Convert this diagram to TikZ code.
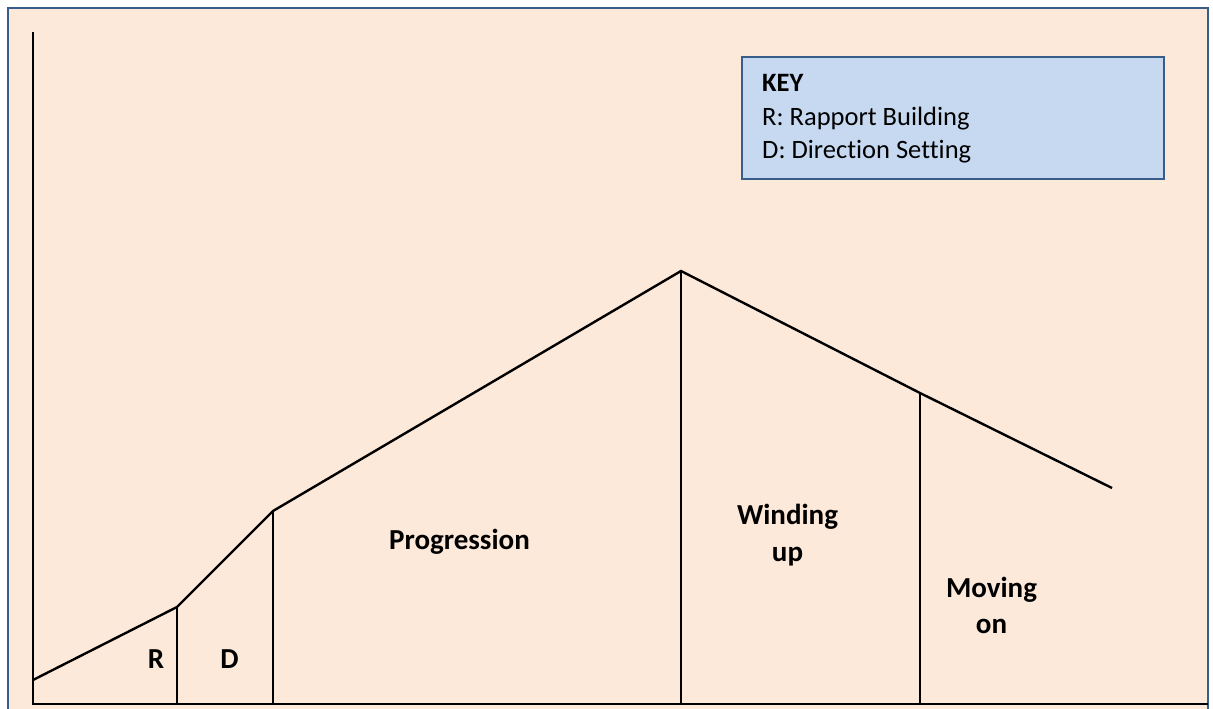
\documentclass[tikz,border=0pt]{standalone}
\usepackage{fontspec}
\setmainfont[Ligatures={NoCommon}]{Carlito}
\definecolor{peach}{HTML}{FDE9D9}
\definecolor{frameblue}{HTML}{385D8A}
\definecolor{keyfill}{HTML}{C6D9F1}
\begin{document}
\begin{tikzpicture}[x=1pt,y=-1pt,
  curve/.style={line width=2.4pt,line join=miter},
  axisline/.style={line width=2.8pt},
  divider/.style={line width=2.4pt},
  phase/.style={font=\fontsize{29}{37}\selectfont\bfseries,align=center,inner sep=0pt},
  keytext/.style={font=\fontsize{26.5}{33}\selectfont,anchor=base west,inner sep=0pt}]
  \useasboundingbox (0,0) rectangle (1213,709);
  % page background and frame
  \fill[white] (0,0) rectangle (1213,709);
  \fill[peach] (8,8) rectangle (1208,712);
  \draw[frameblue,line width=2.6pt] (8,714) -- (8,8) -- (1208,8) -- (1208,714);

  % axes
  \coordinate (top) at (33,32);
  \coordinate (origin) at (33,704);
  \coordinate (xend) at (1208,704);
  \draw[axisline] (top) -- (origin) -- (xend);

  % session curve
  \coordinate (c0) at (33,680);
  \coordinate (c1) at (177,607);
  \coordinate (c2) at (273,511);
  \coordinate (c3) at (681,271);
  \coordinate (c4) at (920,393);
  \coordinate (c5) at (1112,488);
  \draw[curve] (c0) -- (c1) -- (c2) -- (c3) -- (c4) -- (c5);

  % phase dividers
  \coordinate (b1) at (177,704);
  \coordinate (b2) at (273,704);
  \coordinate (b3) at (681,704);
  \coordinate (b4) at (920,704);
  \draw[divider] (c1) -- (b1);
  \draw[divider] (c2) -- (b2);
  \draw[divider] (c3) -- (b3);
  \draw[divider] (c4) -- (b4);

  % phase labels
  \node[phase,anchor=base] (lr) at (156,668) {R};
  \node[phase,anchor=base] (ld) at (229.5,668) {D};
  \node[phase,anchor=base] (lp) at (459.5,549) {Progression};
  \node[phase,anchor=base] (lw) at (787.5,524) {Winding};
  \node[phase,anchor=base] (lu) at (787.5,561) {up};
  \node[phase,anchor=base] (lm) at (991.5,597) {Moving};
  \node[phase,anchor=base] (lo) at (991.5,633) {on};

  % key
  \node[draw=frameblue,fill=keyfill,line width=1.8pt,minimum width=422pt,minimum height=122pt,inner sep=0pt,anchor=north west] (key) at (741,56) {};
  \node[keytext,font=\fontsize{26.5}{33}\selectfont\bfseries] (k0) at (762,92) {KEY};
  \node[keytext] (k1) at (762,125) {R: Rapport Building};
  \node[keytext] (k2) at (762,158) {D: Direction Setting};
\end{tikzpicture}
\end{document}
